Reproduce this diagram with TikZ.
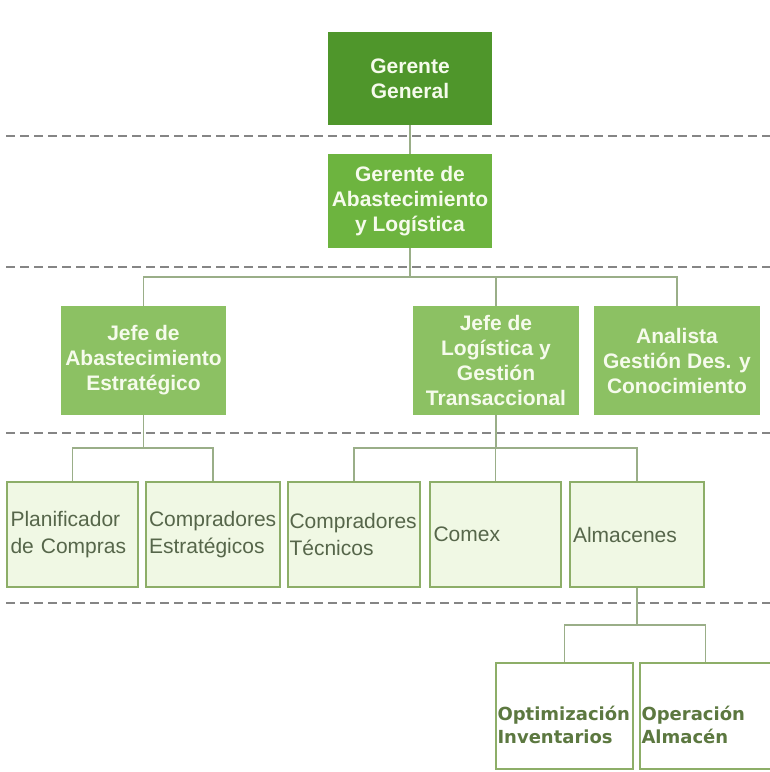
\documentclass[tikz,border=0pt]{standalone}
\usepackage{fontspec}
\setmainfont{Liberation Sans}
\newfontfamily\boldsans{DejaVu Sans}
\definecolor{ggfill}{HTML}{4F962B}
\definecolor{galfill}{HTML}{6DB43F}
\definecolor{jefefill}{HTML}{8CC163}
\definecolor{lightfill}{HTML}{F0F8E4}
\definecolor{lightborder}{HTML}{8DAE68}
\definecolor{toptext}{HTML}{F6FBEC}
\definecolor{lowtext}{HTML}{56664A}
\definecolor{boldtext}{HTML}{5C7840}
\definecolor{conn}{HTML}{9AAE88}
\definecolor{dashcol}{HTML}{858585}
\tikzset{
  topbox/.style={draw=none, inner sep=0pt, align=center, text=toptext,
    font=\bfseries\fontsize{21}{25}\selectfont},
  lowbox/.style={draw=lightborder, fill=lightfill, line width=1.3pt, inner sep=0pt,
    minimum height=105pt, align=left, text=lowtext,
    font=\fontsize{21}{27}\selectfont},
  botbox/.style={draw=lightborder, fill=white, line width=1.3pt, inner sep=0pt,
    minimum height=106pt, align=left, text=boldtext,
    font=\boldsans\bfseries\fontsize{18}{23}\selectfont},
  sep/.style={draw=dashcol, line width=1.8pt, dash pattern=on 9pt off 5pt},
  link/.style={draw=conn, line width=1.3pt}
}
\begin{document}
\begin{tikzpicture}[x=1pt,y=-1pt]
\useasboundingbox (0,0) rectangle (770,772);
\fill[white] (0,0) rectangle (770,772);
% separators
\draw[sep] (6,136) -- (770,136);
\draw[sep] (6,267) -- (770,267);
\draw[sep] (6,433) -- (770,433);
\draw[sep] (6,603) -- (770,603);
% boxes
\node[topbox, fill=ggfill, minimum width=164pt, minimum height=93pt] (gg) at (410,78.5) {Gerente\\General};
\node[topbox, fill=galfill, minimum width=164pt, minimum height=94pt] (gal) at (410,201) {Gerente de\\Abastecimiento\\y Logística};
\node[topbox, fill=jefefill, minimum width=165pt, minimum height=109pt] (ja) at (143.5,360.5) {Jefe de\\Abastecimiento\\Estratégico};
\node[topbox, fill=jefefill, minimum width=166pt, minimum height=109pt] (jl) at (496,360.5) {Jefe de\\Logística y\\Gestión\\Transaccional};
\node[topbox, fill=jefefill, minimum width=166pt, minimum height=109pt] (an) at (677,360.5) {Analista\\Gestión Des. y\\Conocimiento};
\node[lowbox, minimum width=131pt, text width=124pt] (pc) at (72.5,534.5) {Planificador\\de Compras};
\node[lowbox, minimum width=134pt, text width=128pt] (ce) at (213,534.5) {Compradores\\Estratégicos};
\node[lowbox, minimum width=132pt, text width=129pt] (ct) at (354,534.5) {Compradores\\Técnicos};
\node[lowbox, minimum width=131pt, text width=124pt] (co) at (495.5,534.5) {Comex};
\node[lowbox, minimum width=134pt, text width=128pt] (al) at (637,534.5) {Almacenes};
\node[botbox, minimum width=137pt, text width=134pt] (oi) at (564.5,716) {\rule{0pt}{33pt}Optimización\\Inventarios};
\node[botbox, minimum width=131pt, text width=128pt] (oa) at (705.5,716) {\rule{0pt}{33pt}Operación\\Almacén};
% connectors
\coordinate (b1) at (410,277);
\coordinate (b2) at (143.5,448);
\coordinate (b3) at (496,448);
\coordinate (b4) at (637,625);
\draw[link] (gg.south) -- (gal.north);
\draw[link] (gal.south) -- (b1);
\draw[link] (b1) -| (ja.north);
\draw[link] (b1) -| (jl.north);
\draw[link] (b1) -| (an.north);
\draw[link] (ja.south) -- (b2);
\draw[link] (b2) -| (pc.north);
\draw[link] (b2) -| (ce.north);
\draw[link] (jl.south) -- (b3);
\draw[link] (b3) -| (ct.north);
\draw[link] (b3) -| (co.north);
\draw[link] (b3) -| (al.north);
\draw[link] (al.south) -- (b4);
\draw[link] (b4) -| (oi.north);
\draw[link] (b4) -| (oa.north);
\end{tikzpicture}
\end{document}
